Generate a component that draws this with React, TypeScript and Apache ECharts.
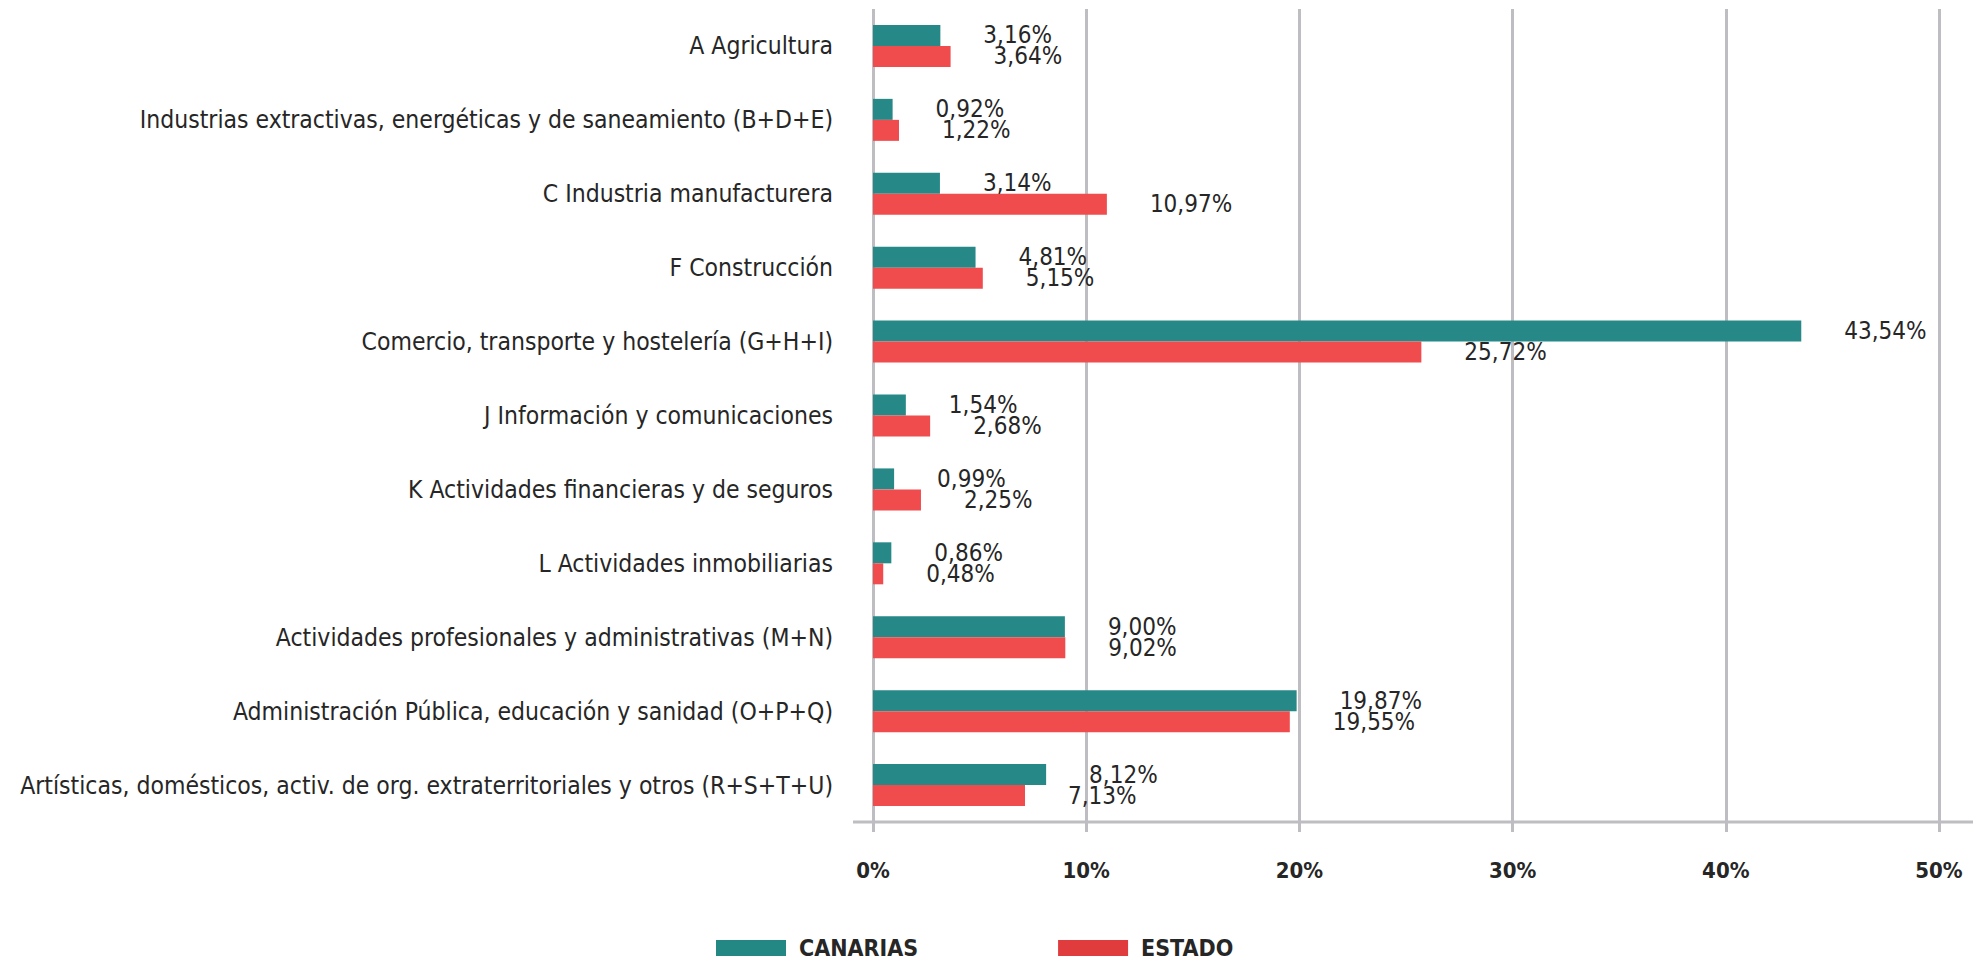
import React, { useEffect, useRef } from "react";
import * as echarts from "echarts";

const categories = [
  "A Agricultura",
  "Industrias extractivas, energéticas y de saneamiento (B+D+E)",
  "C Industria manufacturera",
  "F Construcción",
  "Comercio, transporte y hostelería (G+H+I)",
  "J Información y comunicaciones",
  "K Actividades financieras y de seguros",
  "L Actividades inmobiliarias",
  "Actividades profesionales y administrativas (M+N)",
  "Administración Pública, educación y sanidad (O+P+Q)",
  "Artísticas, domésticos, activ. de org. extraterritoriales y otros (R+S+T+U)",
];
const canarias = [3.16, 0.92, 3.14, 4.81, 43.54, 1.54, 0.99, 0.86, 9.0, 19.87, 8.12];
const estado = [3.64, 1.22, 10.97, 5.15, 25.72, 2.68, 2.25, 0.48, 9.02, 19.55, 7.13];
const seriesNames = ["CANARIAS", "ESTADO"];
const axisMin = 0;
const axisMax = 50;
const axisInterval = 10;

const FONT = "'DejaVu Sans Condensed', 'Roboto', sans-serif";
const TEXT = "#262626";
const GRID = "#bebec2";
const W = 1979;
const H = 962;
const G = { left: 873, right: 40, top: 9, bottom: 140 };

const fmt = (v: number) => v.toFixed(2).replace(".", ",") + "%";

export default function App() {
  const ref = useRef<HTMLDivElement>(null);
  useEffect(() => {
    document.body.style.margin = "0";
    const chart = echarts.init(ref.current!, undefined, { renderer: "svg" });
    const label = {
      show: true,
      position: "right" as const,
      distance: 43,
      fontFamily: FONT,
      fontSize: 24,
      color: TEXT,
      formatter: (p: any) => fmt(p.value),
    };
    chart.setOption({
      animation: false,
      grid: { ...G, containLabel: false },
      legend: {
        data: [
          { name: seriesNames[0], itemStyle: { color: "#238784" } },
          { name: seriesNames[1], itemStyle: { color: "#e03b3d" } },
        ],
        left: 716,
        top: 936,
        padding: 0,
        itemWidth: 70,
        itemHeight: 16,
        itemGap: 140,
        icon: "rect",
        textStyle: { fontFamily: FONT, fontSize: 23, fontWeight: "bold", color: TEXT, lineHeight: 24, padding: [0, 0, 0, 8] },
      },
      xAxis: {
        type: "value",
        min: axisMin,
        max: axisMax,
        interval: axisInterval,
        axisLine: { show: false },
        axisTick: { show: true, length: 10, lineStyle: { color: GRID, width: 3 } },
        splitLine: { show: true, lineStyle: { color: GRID, width: 3 } },
        axisLabel: {
          margin: 37,
          fontFamily: FONT,
          fontSize: 22,
          fontWeight: 600,
          color: TEXT,
          formatter: (v: number) => v + "%",
        },
      },
      yAxis: {
        type: "category",
        data: categories,
        inverse: true,
        axisLine: { show: false },
        axisTick: { show: false },
        axisLabel: { margin: 40, fontFamily: FONT, fontSize: 24.5, color: TEXT },
      },
      graphic: [
        {
          type: "line",
          shape: { x1: G.left - 20, y1: H - G.bottom, x2: W - 6, y2: H - G.bottom },
          style: { stroke: GRID, lineWidth: 3 },
          z: 10,
        },
      ],
      series: [
        {
          name: seriesNames[0],
          type: "bar",
          data: canarias,
          barWidth: 21,
          barGap: "0%",
          itemStyle: { color: "#268887" },
          label,
        },
        {
          name: seriesNames[1],
          type: "bar",
          data: estado,
          barWidth: 21,
          barGap: "0%",
          itemStyle: { color: "#f04c4d" },
          label,
        },
      ],
    });
    return () => chart.dispose();
  }, []);
  return <div ref={ref} style={{ width: W, height: H }} />;
}
